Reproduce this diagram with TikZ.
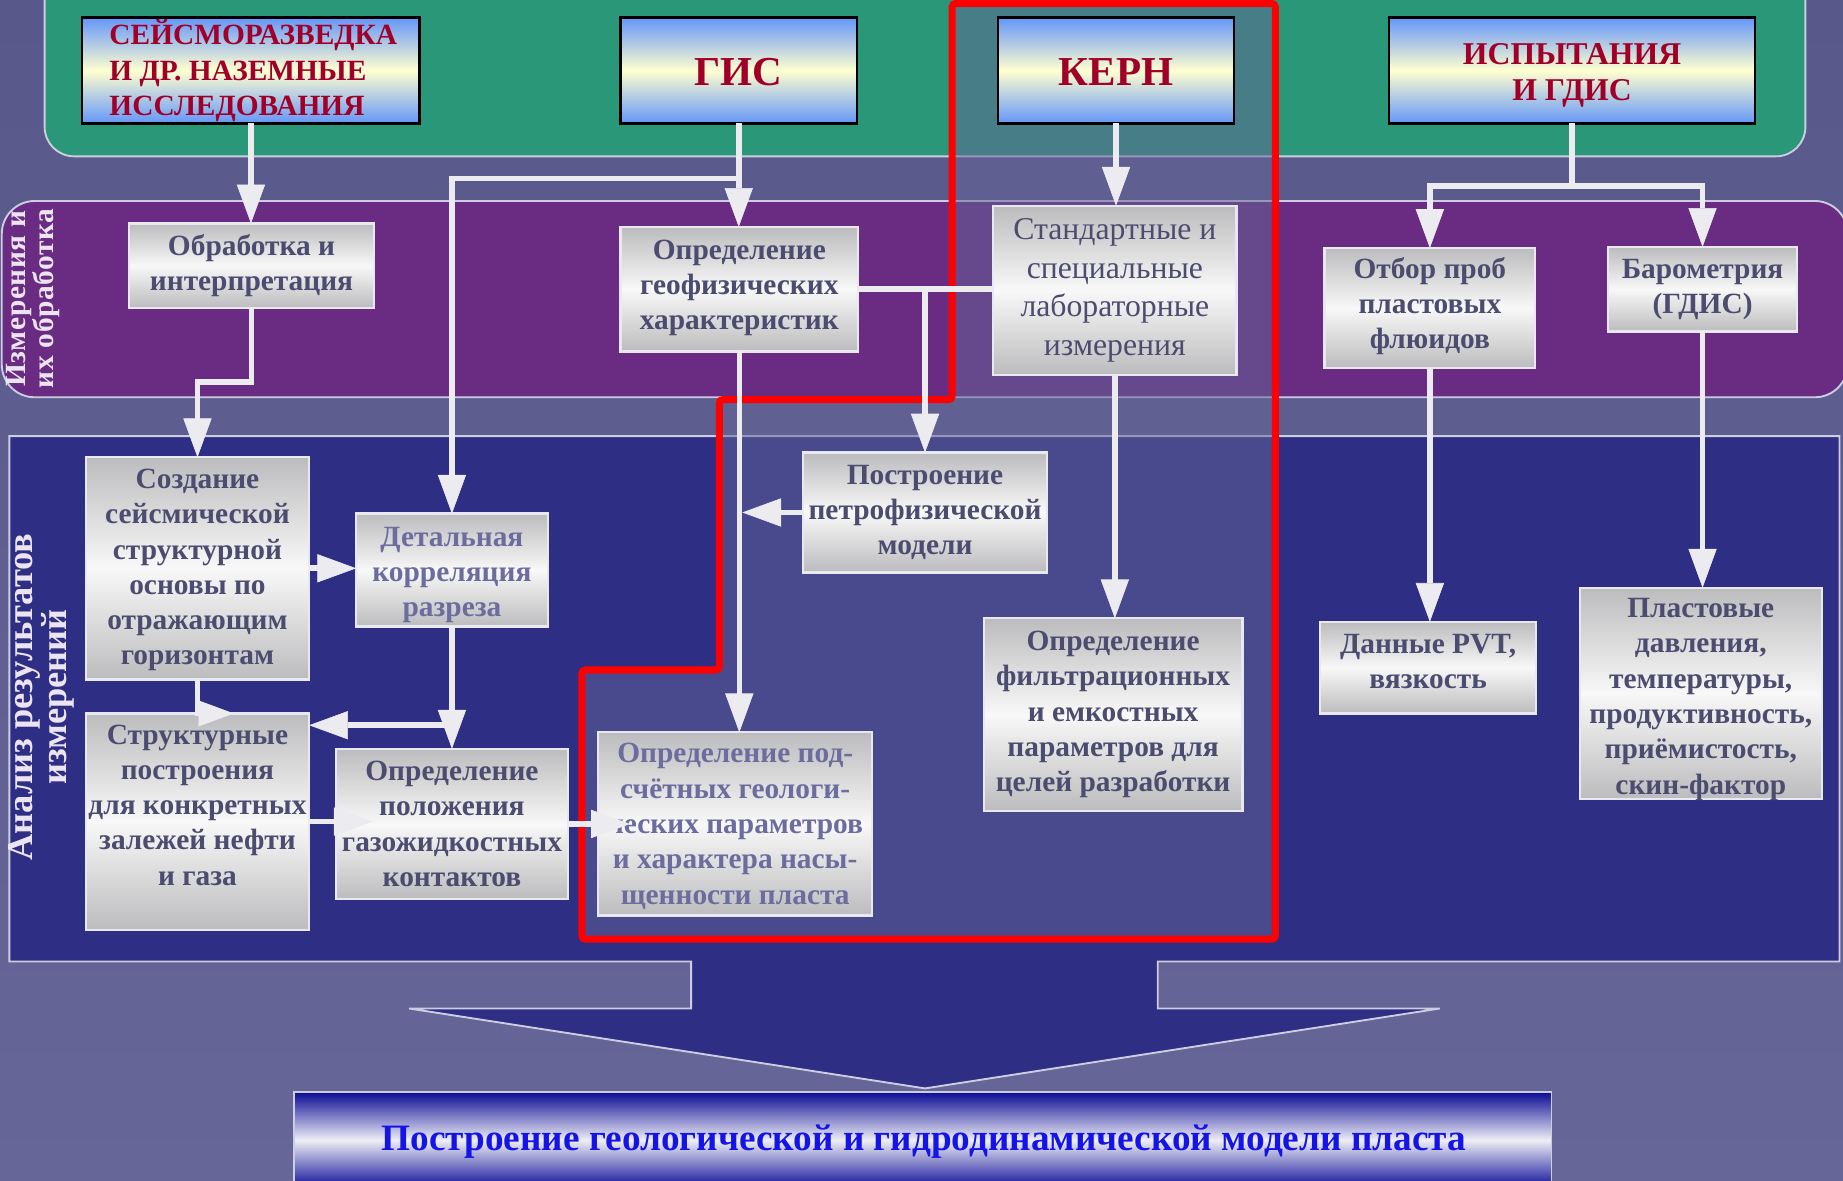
\documentclass[tikz,border=0pt]{standalone}
\usepackage{fontspec}
\setmainfont{Liberation Serif}
\newfontfamily\spacedfont[LetterSpace=2]{Liberation Serif}
\usetikzlibrary{arrows.meta,calc}

\definecolor{bgtop}{RGB}{88,88,138}
\definecolor{bgbot}{RGB}{102,102,152}
\definecolor{greenband}{RGB}{42,152,120}
\definecolor{purpband}{RGB}{106,44,130}
\definecolor{blueband}{RGB}{46,46,132}
\definecolor{overlaycol}{RGB}{100,100,150}
\definecolor{bandedge}{RGB}{205,205,225}
\definecolor{htop}{RGB}{100,150,248}
\definecolor{hmid}{RGB}{255,255,208}
\definecolor{htext}{RGB}{160,0,40}
\definecolor{gtop}{RGB}{188,188,190}
\definecolor{gmid}{RGB}{248,248,248}
\definecolor{gedge}{RGB}{232,232,240}
\definecolor{gtext}{RGB}{76,76,112}
\definecolor{gtextl}{RGB}{108,108,158}
\definecolor{arrw}{RGB}{235,235,240}
\definecolor{btop}{RGB}{12,12,150}
\definecolor{bmid}{RGB}{238,238,246}
\definecolor{btext}{RGB}{20,20,230}
\definecolor{sidetext}{RGB}{236,228,240}

\newcommand\myg{\fontsize{25}{30}\selectfont\bfseries}
\newcommand\mygb[7]{%
  \node[gbox, minimum width=#4pt, minimum height=#5pt] (#1) at (#2,#3) {};
  \node[#6] (#1-t) at (#1.center) {#7};}

\begin{document}
\begin{tikzpicture}[x=1pt,y=-1pt,
  hbox/.style={draw=black, line width=2pt, top color=htop, bottom color=htop,
    middle color=hmid, inner sep=0pt, outer sep=0pt},
  htxt/.style={text=htext, align=center, inner sep=0pt},
  gbox/.style={draw=gedge, line width=2pt, top color=gtop, bottom color=gtop,
    middle color=gmid, inner sep=0pt, outer sep=0pt},
  gtxt/.style={text=gtext, font=\myg, align=center, inner sep=0pt},
  gtxtl/.style={text=gtextl, font=\myg, align=center, inner sep=0pt},
  conn/.style={draw=arrw, line width=4.8pt},
  arr/.style={conn, -{Triangle[length=33pt,width=24pt,line width=0.5pt]}},
  sarr/.style={conn, -{Triangle[length=30pt,width=22pt,line width=0.5pt]}},
  band/.style={draw=bandedge, line width=1.6pt}
]
\useasboundingbox (0,0) rectangle (1568,1004);
\clip (0,0) rectangle (1568,1004);
\fill[top color=bgtop, bottom color=bgbot] (0,0) rectangle (1568,1004);

% bands
\draw[band, fill=greenband, rounded corners=25pt] (38,-40) rectangle (1536,133);
\draw[band, fill=purpband, rounded corners=28pt] (1.5,171) rectangle (1572,338);
\draw[band, fill=blueband] (8,371) -- (1565,371) -- (1565,818) -- (985,818)
  -- (985,858) -- (1225,858) -- (787,926) -- (348,858) -- (588,858)
  -- (588,818) -- (8,818) -- cycle;

% red highlighted region
\fill[overlaycol, opacity=0.5] (810,3) -- (1085,3) -- (1085,799) -- (495,799)
  -- (495,570) -- (612,570) -- (612,340) -- (810,340) -- cycle;
\draw[red, line width=6pt, rounded corners=3pt] (810,3) -- (1085,3) -- (1085,799) -- (495,799)
  -- (495,570) -- (612,570) -- (612,340) -- (810,340) -- cycle;

% side labels
\node[rotate=90, text=sidetext, align=center, inner sep=0pt,
  font=\spacedfont\bfseries\fontsize{25}{21}\selectfont] (lab1) at (28,254)
  {Измерения и\\их обработка};
\node[rotate=90, text=sidetext, align=center, inner sep=0pt,
  font=\bfseries\fontsize{31}{29}\selectfont] (lab2) at (35,593)
  {Анализ результатов\\измерений};

% header boxes
\node[hbox, minimum width=287pt, minimum height=90pt] (seism) at (213.5,60) {};
\node[htxt, font=\bfseries\fontsize{25}{30}\selectfont, yshift=-2pt, xshift=2pt] (seism-t) at (seism.center)
  {\begin{tabular}{@{}l@{}}СЕЙСМОРАЗВЕДКА\\И ДР. НАЗЕМНЫЕ\\ИССЛЕДОВАНИЯ\end{tabular}};
\node[hbox, minimum width=201pt, minimum height=90pt] (gis) at (628.5,60) {};
\node[htxt, font=\bfseries\fontsize{35}{40}\selectfont, yshift=-1pt] (gis-t) at (gis.center) {ГИС};
\node[hbox, minimum width=201pt, minimum height=90pt] (kern) at (949.5,60) {};
\node[htxt, font=\bfseries\fontsize{35}{40}\selectfont, yshift=-1pt] (kern-t) at (kern.center) {КЕРН};
\node[hbox, minimum width=311pt, minimum height=90pt] (isp) at (1337.5,60) {};
\node[htxt, font=\bfseries\fontsize{27}{31}\selectfont, yshift=-4pt] (isp-t) at (isp.center) {ИСПЫТАНИЯ\\И ГДИС};

% grey boxes
\mygb{obr}{214}{226}{208}{72}{gtxt}{Обработка и\\интерпретация}
\mygb{geof}{629}{246}{202}{106}{gtxt, yshift=1pt}{Определение\\геофизических\\характеристик}
\mygb{std}{948.5}{247}{207}{144}{gtxt, font=\fontsize{27}{33}\selectfont}{Стандартные и\\специальные\\лабораторные\\измерения}
\mygb{otbor}{1216.5}{262}{179}{102}{gtxt, yshift=1.5pt}{Отбор проб\\пластовых\\флюидов}
\mygb{barom}{1448.5}{246}{161}{72}{gtxt}{Барометрия\\(ГДИС)}
\mygb{sozd}{168}{483.5}{190}{189}{gtxt, yshift=-1.5pt}{Создание\\сейсмической\\структурной\\основы по\\отражающим\\горизонтам}
\mygb{detal}{384.5}{485}{163}{96}{gtxtl, yshift=-4pt}{Детальная\\корреляция\\разреза}
\mygb{petro}{787}{436}{208}{102}{gtxt}{Построение\\петрофизической\\модели}
\mygb{struct}{168}{699}{190}{184}{gtxt, yshift=14pt}{Структурные\\построения\\для конкретных\\залежей нефти\\и газа}
\mygb{polozh}{384.5}{701}{197}{128}{gtxt}{Определение\\положения\\газожидкостных\\контактов}
\mygb{podsch}{625.5}{701}{233}{156}{gtxtl, yshift=-2pt}{Определение под-\\счётных геологи-\\ческих параметров\\и характера насы-\\щенности пласта}
\mygb{filtr}{947}{608}{220}{164}{gtxt}{Определение\\фильтрационных\\и емкостных\\параметров для\\целей разработки}
\mygb{pvt}{1215}{568}{184}{78}{gtxt, yshift=5pt}{Данные PVT,\\вязкость}
\mygb{plast}{1447}{590}{206}{180}{gtxt, yshift=-5pt}{Пластовые\\давления,\\температуры,\\продуктивность,\\приёмистость,\\скин-фактор}

% final box
\node[draw=bandedge, line width=1.5pt, top color=btop, bottom color=btop, middle color=bmid,
  minimum width=1070pt, minimum height=82pt, inner sep=0pt] (final) at (785,970) {};
\node[text=btext, inner sep=0pt, font=\bfseries\fontsize{31.7}{36}\selectfont]
  (final-t) at (786,971) {Построение геологической и гидродинамической модели пласта};

% connectors
\coordinate (gisj) at (628.5,152);
\coordinate (ispj) at (1337.5,158);
\coordinate (detj) at (384.5,617);
\draw[arr] (seism.south) -- (seism.south |- obr.north);
\draw[arr] (obr.south) -- ++(0,63) -| (sozd.north);
\draw[arr] (gis.south) -- (gis.south |- geof.north);
\draw[arr] (gisj) -| (detal.north);
\draw[conn] (geof.east) -- (geof.east -| std.west);
\draw[arr] (geof.east -| petro.north) -- (petro.north);
\draw[arr] (geof.south) -- (geof.south |- podsch.north);
\draw[arr] (petro.west) -- ($(petro.west -| geof.south)+(2.5,0)$);
\draw[arr] (kern.south) -- (kern.south |- std.north);
\draw[arr] (std.south) -- (std.south |- filtr.north);
\draw[conn] (isp.south) -- (ispj);
\draw[arr] (ispj) -| (otbor.north);
\draw[arr] (ispj) -| (barom.north);
\draw[arr] (otbor.south) -- (otbor.south |- pvt.north);
\draw[arr] (barom.south) -- (barom.south |- plast.north);
\draw[arr] (sozd.east) -- (sozd.east -| detal.west);
\draw[sarr] (sozd.south) -- (sozd.south |- struct.north) -- ++(31,0);
\draw[arr] (detal.south) -- (detal.south |- polozh.north);
\draw[arr] (detj) -- (detj -| struct.east);
\draw[arr] (struct.east) -- ++(54,0);
\draw[arr] (polozh.east) -- ++(53,0);
\end{tikzpicture}
\end{document}
